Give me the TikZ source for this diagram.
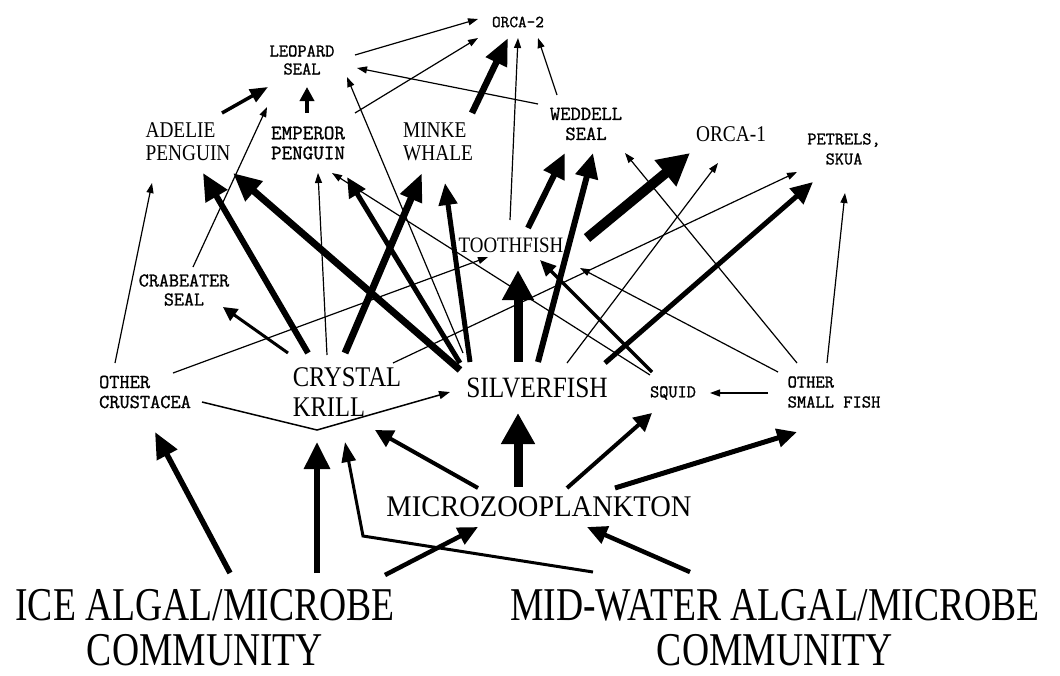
\documentclass[tikz,border=0pt]{standalone}
\usepackage{fontspec}
\newfontfamily\serifA[FakeStretch=0.8]{Liberation Serif}
\newfontfamily\serifB[FakeStretch=0.86]{Liberation Serif}
\newfontfamily\serifC[FakeStretch=0.95]{Liberation Serif}
\newfontfamily\labmono[FakeBold=1.2]{Latin Modern Mono}
\usetikzlibrary{arrows.meta}
\tikzset{
  lab/.style={inner sep=0pt, text=black},
  bigA/.style 2 args={lab, font=\serifA\fontsize{#1}{#2}\selectfont},
  bigB/.style 2 args={lab, font=\serifB\fontsize{#1}{#2}\selectfont},
  bigC/.style 2 args={lab, font=\serifC\fontsize{#1}{#2}\selectfont},
  sml/.style 2 args={lab, font=\labmono\fontsize{#1}{#2}\selectfont},
  cn/.style n args={3}{line width=#1pt, -{Triangle[length=#2pt,width=#3pt]}},
  fine/.style={cn={1.2}{10}{7}},
}
\begin{document}
\begin{tikzpicture}[x=1pt,y=-1pt]
\fill[white] (0,0) rectangle (1060,675);
\useasboundingbox (0,0) rectangle (1060,675);

% ---------- nodes ----------
\node[sml={16.8}{18}] (orcaII) at (518,22) {ORCA-2};
\node[sml={18}{18}, align=center] (leopard) at (302,60) {LEOPARD\\SEAL};
\node[bigB={22.5}{23}, align=left] (adelie) at (188,142) {ADELIE\\PENGUIN};
\node[sml={20.5}{20}, align=left] (emperor) at (308,143) {EMPEROR\\PENGUIN};
\node[bigB={22.5}{23}, align=left] (minke) at (438,142) {MINKE\\WHALE};
\node[sml={20}{20}, align=center] (weddell) at (586,124) {WEDDELL\\SEAL};
\node[bigB={22.5}{23}] (orcaI) at (731,134) {ORCA-1};
\node[sml={17.8}{20}, align=center] (petrels) at (844,149) {PETRELS,\\SKUA};
\node[bigB={22}{23}] (toothfish) at (511,245) {TOOTHFISH};
\node[sml={19.5}{19}, align=center] (crabeater) at (184,290) {CRABEATER\\SEAL};
\node[sml={19.8}{20}, align=left] (crustacea) at (145,392) {OTHER\\CRUSTACEA};
\node[bigB={28.5}{30}, align=left] (krill) at (347,392) {CRYSTAL\\KRILL};
\node[bigB={29.5}{30}] (silverfish) at (537,388) {SILVERFISH};
\node[sml={17.8}{18}] (squid) at (673,393) {SQUID};
\node[sml={18}{20}, align=left] (smallfish) at (834,392) {OTHER\\SMALL FISH};
\node[bigC={30}{32}] (micro) at (539,507) {MICROZOOPLANKTON};
\node[bigA={47}{45}, align=center] (ice) at (205,628) {ICE ALGAL/MICROBE\\COMMUNITY};
\node[bigA={47}{45}, align=center] (mid) at (775,628) {MID-WATER ALGAL/MICROBE\\COMMUNITY};
\coordinate (bendA) at (317,430);
\coordinate (bendB) at (363,536);

% ---------- thin connectors ----------
\draw[fine] ([shift={(53,-5)}]leopard.center) -- ([shift={(-40,-3)}]orcaII.center);
\draw[fine] ([shift={(47,-30)}]emperor.center) -- ([shift={(-40,16)}]orcaII.center);
\draw[fine] ([shift={(-48,-20)}]weddell.center) -- ([shift={(55,8)}]leopard.center);
\draw[fine] ([shift={(9,-23)}]crabeater.center) -- ([shift={(-35,47)}]leopard.center);
\draw[fine] ([shift={(-74,-35)}]silverfish.center) -- ([shift={(45,17)}]leopard.center);
\draw[fine] ([shift={(-1,-25)}]toothfish.center) -- ([shift={(0,16)}]orcaII.center);
\draw[fine] ([shift={(-29,-29)}]weddell.center) -- ([shift={(20,16)}]orcaII.center);
\draw[fine] ([shift={(-30,-29)}]crustacea.center) -- ([shift={(-36,41)}]adelie.center);
\draw[fine] ([shift={(-20,-37)}]krill.center) -- ([shift={(10,30)}]emperor.center);
\draw[fine] ([shift={(-23,-18)}]squid.center) -- ([shift={(24,30)}]emperor.center);
\draw[fine] ([shift={(-37,-29)}]smallfish.center) -- ([shift={(39,29)}]weddell.center);
\draw[fine] ([shift={(30,-25)}]silverfish.center) -- ([shift={(-13,29)}]orcaI.center);
\draw[fine] ([shift={(46,-29)}]krill.center) -- ([shift={(-47,23)}]petrels.center);
\draw[fine] ([shift={(-7,-29)}]smallfish.center) -- ([shift={(1,44)}]petrels.center);
\draw[fine] ([shift={(28,-19)}]crustacea.center) -- ([shift={(-23,12)}]toothfish.center);
\draw[fine] ([shift={(-56,-20)}]smallfish.center) -- ([shift={(69,23)}]toothfish.center);
\draw[fine] ([shift={(-66,1)}]smallfish.center) -- ([shift={(37,0)}]squid.center);
\draw[cn={1.5}{11}{8}, line join=miter] ([shift={(57,10)}]crustacea.center) -- (bendA) -- ([shift={(-87,4)}]silverfish.center);
\draw[cn={3}{20}{14}, line join=miter] ([shift={(-182,-56)}]mid.center) -- (bendB) -- ([shift={(-2,50)}]krill.center);

% ---------- medium connectors ----------
\draw[cn={3.5}{18}{14}] ([shift={(34,-29)}]adelie.center) -- ([shift={(-34,27)}]leopard.center);
\draw[cn={3.5}{14}{14}] ([shift={(-1,-30)}]emperor.center) -- ([shift={(5,27)}]leopard.center);
\draw[cn={3}{14}{14}] ([shift={(-59,-39)}]krill.center) -- ([shift={(39,17)}]crabeater.center);
\draw[cn={3.5}{16}{14}] ([shift={(-21,-21)}]squid.center) -- ([shift={(29,15)}]toothfish.center);

% ---------- thick connectors ----------
\draw[cn={6.5}{27}{22}] ([shift={(34,-29)}]minke.center) -- ([shift={(-10,16)}]orcaII.center);
\draw[cn={6}{27}{24}] ([shift={(-39,-39)}]krill.center) -- ([shift={(15,31)}]adelie.center);
\draw[cn={7}{28}{25}] ([shift={(-77,-18)}]silverfish.center) -- ([shift={(45,31)}]adelie.center);
\draw[cn={5}{20}{18}] ([shift={(-77,-25)}]silverfish.center) -- ([shift={(39,34)}]emperor.center);
\draw[cn={7}{28}{22}] ([shift={(-2,-39)}]krill.center) -- ([shift={(-16,31)}]minke.center);
\draw[cn={5}{22}{18}] ([shift={(-67,-26)}]silverfish.center) -- ([shift={(7,41)}]minke.center);
\draw[cn={9}{30}{30}] ([shift={(-19,-26)}]silverfish.center) -- ([shift={(7,25)}]toothfish.center);
\draw[cn={6}{25}{22}] ([shift={(17,-17)}]toothfish.center) -- ([shift={(-21,29)}]weddell.center);
\draw[cn={6}{25}{22}] ([shift={(1,-26)}]silverfish.center) -- ([shift={(7,29)}]weddell.center);
\draw[cn={10}{32}{32}] ([shift={(76,-7)}]toothfish.center) -- ([shift={(-41,19)}]orcaI.center);
\draw[cn={5}{22}{20}] ([shift={(68,-25)}]silverfish.center) -- ([shift={(-31,33)}]petrels.center);

% ---------- bottom connectors ----------
\draw[cn={5.5}{26}{22}] ([shift={(25,-55)}]ice.center) -- ([shift={(10,40)}]crustacea.center);
\draw[cn={6}{27}{25}] ([shift={(112,-55)}]ice.center) -- ([shift={(-30,50)}]krill.center);
\draw[cn={4.5}{20}{18}] ([shift={(180,-53)}]ice.center) -- ([shift={(-61,20)}]micro.center);
\draw[cn={4.5}{20}{18}] ([shift={(-85,-56)}]mid.center) -- ([shift={(48,20)}]micro.center);
\draw[cn={4}{18}{18}] ([shift={(-61,-19)}]micro.center) -- ([shift={(28,38)}]krill.center);
\draw[cn={9}{31}{32}] ([shift={(-21,-20)}]micro.center) -- ([shift={(-19,25)}]silverfish.center);
\draw[cn={4}{18}{18}] ([shift={(28,-19)}]micro.center) -- ([shift={(-21,20)}]squid.center);
\draw[cn={5}{20}{18}] ([shift={(76,-19)}]micro.center) -- ([shift={(-37,40)}]smallfish.center);
\end{tikzpicture}
\end{document}
